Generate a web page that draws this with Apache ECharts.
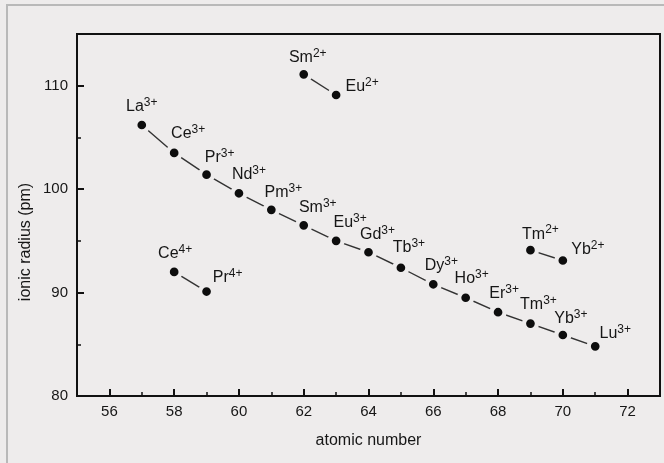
<!DOCTYPE html>
<html>
<head>
<meta charset="utf-8">
<script src="https://cdn.jsdelivr.net/npm/echarts@6/dist/echarts.min.js"></script>
<style>
  html, body { margin: 0; padding: 0; background: #eeecec; }
  #chart { width: 664px; height: 463px; }
</style>
</head>
<body>
<div id="chart"></div>
<script>
// trivalent series La..Lu
const mainZ = [57, 58, 59, 60, 61, 62, 63, 64, 65, 66, 67, 68, 69, 70, 71]
const mainR = [106.2, 103.5, 101.4, 99.6, 98.0, 96.5, 95.0, 93.9, 92.4, 90.8, 89.5, 88.1, 87.0, 85.9, 84.8]
const mainIons = ['La', 'Ce', 'Pr', 'Nd', 'Pm', 'Sm', 'Eu', 'Gd', 'Tb', 'Dy', 'Ho', 'Er', 'Tm', 'Yb', 'Lu']

// divalent pairs
const smEuZ = [62, 63]
const smEuR = [111.1, 109.1]
const smEuIons = ['Sm', 'Eu']

const tmYbZ = [69, 70]
const tmYbR = [94.1, 93.1]
const tmYbIons = ['Tm', 'Yb']

// tetravalent pair
const cePrZ = [58, 59]
const cePrR = [92.0, 90.1]
const cePrIons = ['Ce', 'Pr']

// ticks
const xTicks = [56, 58, 60, 62, 64, 66, 68, 70, 72]
const xMinorTicks = [57, 59, 61, 63, 65, 67, 69, 71]
const yTicks = [80, 90, 100, 110]

const bg = '#eeecec'
const font = 'Liberation Sans'
const ink = '#161616'

// label offsets (label centre relative to the dot)
const labelOffset = {
  'La3+': [0, -18], 'Ce3+': [14, -19], 'Pr3+': [13, -17], 'Nd3+': [10, -19],
  'Pm3+': [12, -17], 'Sm3+': [14, -18], 'Eu3+': [14, -18], 'Gd3+': [9, -18],
  'Tb3+': [8, -20], 'Dy3+': [8, -19], 'Ho3+': [6, -19], 'Er3+': [6, -19],
  'Tm3+': [8, -19], 'Yb3+': [8, -16], 'Lu3+': [20, -13],
  'Sm2+': [4, -17], 'Eu2+': [26, -8], 'Tm2+': [10, -16], 'Yb2+': [25, -11],
  'Ce4+': [1, -18], 'Pr4+': [21, -14]
}

function buildData (zs, rs, ions, charge) {
  return zs.map((z, i) => {
    const off = labelOffset[ions[i] + charge] || [0, -17]
    return {
      value: [z, rs[i]],
      ion: ions[i],
      charge: charge,
      label: { offset: off }
    }
  })
}

function makeSeries (data) {
  return {
    type: 'line',
    data: data,
    symbol: 'circle',
    symbolSize: 13,
    itemStyle: {
      color: '#0d0d0d',
      borderColor: bg,
      borderWidth: 4.3
    },
    lineStyle: {
      color: '#333',
      width: 1.4
    },
    label: {
      show: true,
      position: 'inside',
      align: 'center',
      verticalAlign: 'middle',
      formatter: p => '{b|' + p.data.ion + '}{s|' + p.data.charge + '}',
      rich: {
        b: { fontFamily: font, fontSize: 16, color: ink },
        s: { fontFamily: font, fontSize: 12, color: ink, padding: [0, 0, 8, 0] }
      }
    },
    emphasis: { disabled: true },
    animation: false,
    z: 3
  }
}

const chart = echarts.init(document.getElementById('chart'))

const option = {
  backgroundColor: bg,
  animation: false,
  graphic: [{
    type: 'rect',
    shape: { x: 7, y: 5, width: 700, height: 500 },
    style: { fill: 'none', stroke: '#b9b9b9', lineWidth: 2 },
    silent: true
  }],
  grid: {
    left: 77,
    top: 34,
    right: 4,
    bottom: 67,
    show: true,
    borderColor: '#111',
    borderWidth: 2,
    backgroundColor: 'transparent'
  },
  xAxis: [{
    type: 'value',
    min: 55,
    max: 73,
    name: 'atomic number',
    nameLocation: 'middle',
    nameGap: 37,
    nameTextStyle: { fontFamily: font, fontSize: 16, color: ink },
    axisLine: { show: true, lineStyle: { color: '#111', width: 2 } },
    axisTick: {
      show: true,
      inside: true,
      length: 7,
      customValues: xTicks,
      lineStyle: { color: '#111', width: 2 }
    },
    axisLabel: {
      customValues: xTicks,
      margin: 8,
      fontFamily: font,
      fontSize: 15,
      color: ink
    },
    splitLine: { show: false }
  }, {
    type: 'value',
    min: 55,
    max: 73,
    position: 'bottom',
    axisLine: { show: false },
    axisTick: {
      show: true,
      inside: true,
      length: 4,
      customValues: xMinorTicks,
      lineStyle: { color: '#111', width: 1.5 }
    },
    axisLabel: { show: false },
    splitLine: { show: false }
  }],
  yAxis: {
    type: 'value',
    min: 80,
    max: 115,
    interval: 10,
    name: 'ionic radius (pm)',
    nameLocation: 'middle',
    nameGap: 43,
    nameMoveOverlap: false,
    // title sits below the plot centre in the original
    nameTextStyle: { fontFamily: font, fontSize: 16, color: ink, padding: [0, 54, 0, 0] },
    axisLine: { show: true, lineStyle: { color: '#111', width: 2 } },
    axisTick: {
      show: true,
      inside: true,
      length: 7,
      customValues: yTicks,
      lineStyle: { color: '#111', width: 2 }
    },
    minorTick: {
      show: true,
      splitNumber: 2,
      length: 4,
      lineStyle: { color: '#111', width: 1.5 }
    },
    axisLabel: {
      customValues: yTicks,
      margin: 9,
      fontFamily: font,
      fontSize: 15,
      color: ink
    },
    splitLine: { show: false },
    minorSplitLine: { show: false }
  },
  series: [
    makeSeries(buildData(mainZ, mainR, mainIons, '3+')),
    makeSeries(buildData(smEuZ, smEuR, smEuIons, '2+')),
    makeSeries(buildData(tmYbZ, tmYbR, tmYbIons, '2+')),
    makeSeries(buildData(cePrZ, cePrR, cePrIons, '4+'))
  ]
}

chart.setOption(option)
</script>
</body>
</html>
